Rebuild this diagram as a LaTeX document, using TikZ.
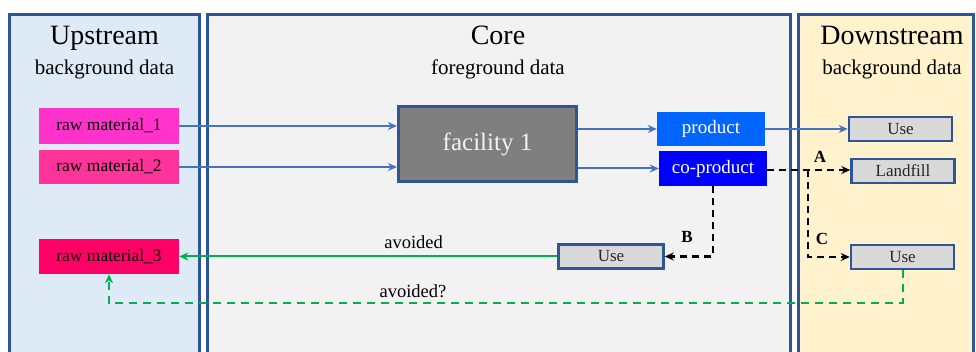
\documentclass[tikz,border=0pt]{standalone}
\usepackage{fontspec}
\setmainfont{Liberation Serif}
\usepackage{xcolor}
\usepackage{tikz}
\usetikzlibrary{positioning,calc,arrows.meta}

\definecolor{frame}{RGB}{47,85,151}
\definecolor{upfill}{RGB}{222,235,247}
\definecolor{corefill}{RGB}{242,242,242}
\definecolor{downfill}{RGB}{255,242,204}
\definecolor{rmone}{RGB}{255,51,204}
\definecolor{rmtwo}{RGB}{255,51,153}
\definecolor{rmthree}{RGB}{255,0,102}
\definecolor{prod}{RGB}{0,102,255}
\definecolor{coprod}{RGB}{0,0,255}
\definecolor{plant}{RGB}{127,127,127}
\definecolor{flow}{RGB}{68,114,196}
\definecolor{avoid}{RGB}{0,176,80}
\newcommand{\sizept}[1]{\fontsize{#1}{#1}\selectfont}

\begin{document}
\begin{tikzpicture}[x=1pt, y=-1pt, >={Stealth[length=9pt, width=8pt]},
		panel/.style={draw=frame, line width=3pt},
		rawbox/.style={rectangle, minimum width=140pt, minimum height=35pt, inner sep=0pt, font=\sizept{17.5}},
		outbox/.style={rectangle, text=white, minimum width=108pt, minimum height=35pt, inner sep=0pt, font=\sizept{19}},
		usebox/.style={rectangle, draw=frame, line width=2.5pt, fill=gray!30, text=black!85, minimum width=103pt, minimum height=24pt, inner sep=0pt, font=\sizept{17}},
		title/.style={anchor=base, font=\sizept{28}},
		subtitle/.style={anchor=base, font=\sizept{21}},
		tag/.style={font=\bfseries\sizept{17}},
		flowline/.style={->, draw=flow, line width=2pt},
		chainline/.style={->, line width=2.2pt, dash pattern=on 7pt off 5pt},
		avoidline/.style={->, draw=avoid, line width=2pt}]
		\useasboundingbox (0,0) rectangle (976,352);
		
		\draw[panel, fill=upfill] (9.5,15) rectangle (199.5,362);
		\draw[panel, fill=corefill] (207.5,15) rectangle (790,362);
		\draw[panel, fill=downfill] (798.5,15) rectangle (973.5,362);
		
		\node[title] (upt) at (104.5,45) {Upstream};
		\node[subtitle] (ups) at (104.5,75) {background data};
		\node[title] (cot) at (498,45) {Core};
		\node[subtitle] (cos) at (498,75) {foreground data};
		\node[title] (dot) at (892,45) {Downstream};
		\node[subtitle] (dos) at (892,75) {background data};
		
		\node[rawbox, fill=rmone, minimum height=36pt] (rm1) at (109,126) {raw material\_1};
		\node[rawbox, fill=rmtwo, minimum height=34pt] (rm2) at (109,167) {raw material\_2};
		\node[rawbox, fill=rmthree] (rm3) at (109,256.5) {raw material\_3};
		
		\node[rectangle, draw=frame, line width=3pt, fill=plant, text=black!5, minimum width=178pt, minimum height=75pt, font=\sizept{25}] (f) at (487.5,144) {facility 1};
		
		\node[outbox, fill=prod, minimum height=34pt] (p) at (711,129) {product};
		\node[outbox, fill=coprod] (cp) at (713,168.5) {co-product};
		
		\node[usebox] (use1) at (900.5,129) {Use};
		\node[usebox] (lf) at (903,171) {Landfill};
		\node[usebox] (use3) at (902.5,257) {Use};
		\node[usebox, minimum width=105pt] (use2) at (611,256.5) {Use};
		
		\draw[flowline] (rm1.east) -- (rm1.east -| f.west);
		\draw[flowline] (rm2.east) -- (rm2.east -| f.west);
		\draw[flowline] (p.west -| f.east) -- (p.west);
		\draw[flowline] (cp.west -| f.east) -- (cp.west);
		\draw[flowline] (p.east) -- (use1.west);
		
		\coordinate (jc) at (808,170);
		\draw[chainline] (cp.east |- jc) -- (jc -| lf.west);
		\draw[chainline] (jc) |- (use3.west);
		\draw[chainline] (cp.south) |- (use2.east);
		\node[tag] (ta) at (820,157) {A};
		\node[tag] (tb) at (687,237) {B};
		\node[tag] (tc) at (822,239) {C};
		
		\draw[avoidline] (use2.west) -- node[pos=0.38, above=3pt, font=\sizept{18.5}] (av) {avoided} (rm3.east);
		\draw[avoidline, dash pattern=on 8pt off 6pt] (use3.south) |- ($(rm3.south)+(0,29)$) -- (rm3.south);
		\node[font=\sizept{18.5}] (avq) at (413,291) {avoided?};
	\end{tikzpicture}
\end{document}
